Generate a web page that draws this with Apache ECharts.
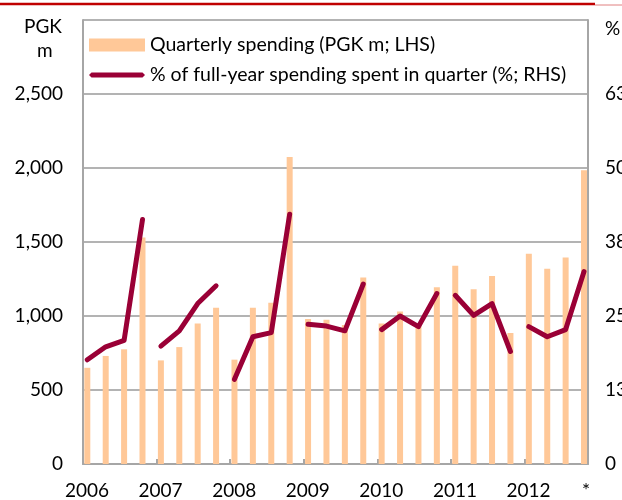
<!DOCTYPE html>
<html>
<head>
<meta charset="utf-8">
<script src="https://cdn.jsdelivr.net/npm/echarts@6/dist/echarts.min.js"></script>
<style>
html,body{margin:0;padding:0;background:#fff;}
#c{width:622px;height:500px;}
</style>
</head>
<body>
<div id="c"></div>
<script>
// Data
var years = ['2006','2007','2008','2009','2010','2011','2012'];
var quarterlySpending = [650,730,775,1530, 700,790,950,1055, 705,1055,1090,2075, 980,975,940,1260, 950,1030,945,1195, 1340,1180,1270,885, 1420,1320,1395,1985];
var pctOfYear = [17.6,19.8,20.9,41.3, 19.9,22.5,27.1,30.1, 14.3,21.5,22.2,42.2, 23.6,23.3,22.5,30.4, 22.7,25.0,23.2,28.8, 28.5,25.1,27.1,19.0, 23.2,21.5,22.7,32.5];
var leftTicks = [0,500,1000,1500,2000,2500];
var rightTicks = [0,13,25,38,50,63];

var BAR_NAME = 'Quarterly spending (PGK m; LHS)';
var LINE_NAME = '% of full-year spending spent in quarter (%; RHS)';
var FONT = 'Lato';
var FS = 19;
var X_OFF = 0.234;   // bar position inside each quarter slot
var X_MAX = 27.45;

var barData = quarterlySpending.map(function(v,i){ return [i + X_OFF, v]; });

var series = [{
  name: BAR_NAME, type: 'bar', xAxisIndex: 0, yAxisIndex: 0,
  barWidth: 6, itemStyle: {color: '#FFC898'}, data: barData, z: 2
}];
years.forEach(function(y, k){
  var seg = [];
  for (var q = 0; q < 4; q++) { var i = k*4 + q; seg.push([i + X_OFF, pctOfYear[i]]); }
  series.push({
    name: LINE_NAME, type: 'line', xAxisIndex: 0, yAxisIndex: 1,
    symbol: 'none', showSymbol: false, data: seg, z: 5,
    lineStyle: {color: '#9A0036', width: 5, cap: 'round', join: 'round'},
    itemStyle: {color: '#9A0036'}
  });
});

var chart = echarts.init(document.getElementById('c'), null, {renderer: 'canvas'});
chart.setOption({
  animation: false,
  textStyle: {fontFamily: FONT},
  grid: {left: 83, right: 34, top: 20, bottom: 36, containLabel: false, outerBoundsMode: 'none'},
  legend: {
    orient: 'vertical', left: 84, top: 30, itemWidth: 56, itemHeight: 13, itemGap: 10, itemTextGap: 2,
    textStyle: {fontFamily: FONT, fontSize: 19.5, color: '#000'},
    data: [
      {name: BAR_NAME, icon: 'rect', itemStyle: {color: '#FFC898'}},
      {name: LINE_NAME, icon: 'path://M2.5,0 L53.5,0 L56,2.5 L53.5,5 L2.5,5 L0,2.5 Z', itemStyle: {color: '#9A0036'}}
    ]
  },
  xAxis: {
    type: 'value', min: 0, max: X_MAX, interval: 4,
    axisLine: {show: true, lineStyle: {color: '#a6a6a6', width: 2}},
    axisTick: {show: true, inside: true, length: 5, lineStyle: {color: '#a6a6a6', width: 2}},
    splitLine: {show: false},
    axisLabel: {
      show: true, margin: 17, fontSize: FS, color: '#000', fontFamily: FONT,
      padding: [0,0,0,8], showMaxLabel: true, showMinLabel: true,
      formatter: function(v){
        if (Math.abs(v - X_MAX) < 1e-6) return '{s|*}';
        var k = Math.round(v/4);
        if (Math.abs(v - k*4) < 1e-6 && k < years.length) return years[k];
        return '';
      },
      rich: {s: {fontSize: FS, fontFamily: FONT, color: '#000', padding: [0,12,8,0]}}
    }
  },
  yAxis: [{
    type: 'value', min: 0, max: 3000, interval: 500, position: 'left',
    axisLine: {show: true, lineStyle: {color: '#a6a6a6', width: 2}},
    axisTick: {show: false},
    splitLine: {show: true, lineStyle: {color: '#b3b3b3', width: 2}},
    axisLabel: {
      margin: 20, fontSize: FS, color: '#000', fontFamily: FONT,
      formatter: function(v){
        if (leftTicks.indexOf(v) < 0) return '';
        return v.toLocaleString('en-US');
      }
    }
  },{
    type: 'value', min: 0, max: 75, interval: 12.5, position: 'right',
    axisLine: {show: true, lineStyle: {color: '#a6a6a6', width: 2}},
    axisTick: {show: false},
    splitLine: {show: false},
    axisLabel: {
      margin: 17, fontSize: FS, color: '#000', fontFamily: FONT, align: 'left',
      formatter: function(v){
        var r = Math.round(v);
        return rightTicks.indexOf(r) >= 0 && v < 75 ? String(r) : '';
      }
    }
  }],
  graphic: [
    {type: 'text', left: 24, top: 17, style: {text: 'PGK', font: FS + 'px ' + FONT, fill: '#000'}},
    {type: 'text', left: 37, top: 41, style: {text: 'm', font: FS + 'px ' + FONT, fill: '#000'}},
    {type: 'text', left: 605, top: 19, style: {text: '%', font: FS + 'px ' + FONT, fill: '#000'}},
    {type: 'line', shape: {x1: 0, y1: 4, x2: 595, y2: 4}, style: {stroke: '#C00000', lineWidth: 2.5}},
    {type: 'line', shape: {x1: 595, y1: 5, x2: 622, y2: 5}, style: {stroke: '#E08080', lineWidth: 1}}
  ],
  series: series
});
</script>
</body>
</html>
